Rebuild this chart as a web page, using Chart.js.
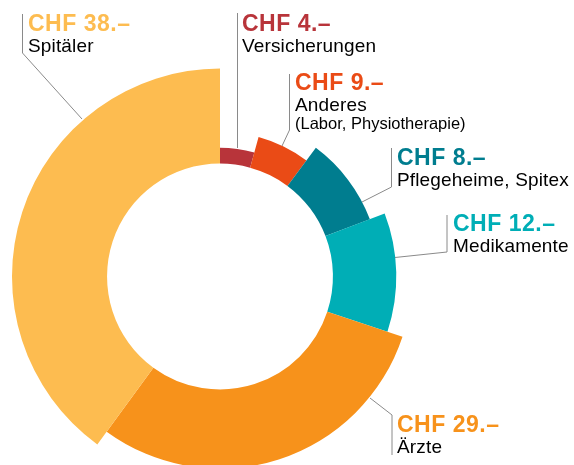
<!DOCTYPE html>
<html>
<head>
<meta charset="utf-8">
<script src="https://cdn.jsdelivr.net/npm/chart.js@4"></script>
<style>
  html, body { margin: 0; padding: 0; background: #fff; overflow: hidden; }
  #wrap { position: relative; width: 574px; height: 465px; }
  #chart { position: absolute; left: 0; top: 0; }
  #notes { position: absolute; left: 0; top: 0; pointer-events: none; }
  #notes text { font-family: "Liberation Sans", Arial, sans-serif; }
  .amount { font-size: 23px; font-weight: bold; letter-spacing: 0.5px; }
  .name { font-size: 19px; fill: #000; letter-spacing: 0.15px; }
  .sub { font-size: 16.5px; fill: #000; }
</style>
</head>
<body>
<div id="wrap">
  <canvas id="chart" width="574" height="465"></canvas>
  <svg id="notes" width="574" height="465"></svg>
</div>
<script>
'use strict';

// clockwise from 12 o'clock
let categories = ['Versicherungen', 'Anderes', 'Pflegeheime, Spitex', 'Medikamente', 'Ärzte', 'Spitäler'];
let amounts = [4, 9, 8, 12, 29, 38];   // CHF of every 100 CHF
let subLabels = ['', '(Labor, Physiotherapie)', '', '', '', ''];
// share of the circle each arc covers in the picture
let arcShares = [4.3, 5.9, 9.0, 10.9, 30, 40];
let colors = ['#b8343a', '#ea4b16', '#007d8f', '#00aeb6', '#f7921b', '#fdbc50'];

// where the text blocks and their leader lines go (left x, baseline y)
let callouts = [
  { x: 242, y: 31, line: [[237.5, 13], [237.5, 148]] },
  { x: 295, y: 90, line: [[289.5, 74], [289.5, 130], [282, 146]] },
  { x: 397, y: 165, line: [[391.5, 148], [391.5, 187], [362, 202]] },
  { x: 453, y: 231, line: [[447, 215], [447, 252], [395, 257.5]] },
  { x: 397, y: 432, line: [[370, 398], [392, 415], [392, 455]] },
  { x: 28, y: 31, line: [[22.5, 14], [22.5, 53], [82, 119]] }
];

// every arc gets a thicker ring than the one before it
const steppedRings = {
  id: 'steppedRings',
  beforeDatasetDraw(chart, args) {
    let meta = args.meta;
    let inner = meta.controller.innerRadius;
    let outer = meta.controller.outerRadius;
    let n = meta.data.length;
    meta.data.forEach((arc, i) => {
      arc.outerRadius = inner + (outer - inner) * (i + 1) / n;
    });
  }
};

const canvasEl = document.getElementById('chart');

new Chart(canvasEl, {
  type: 'doughnut',
  data: {
    labels: categories,
    datasets: [{
      data: arcShares,
      backgroundColor: colors,
      borderWidth: 0,
      radius: 208,
      cutout: '54.3%'
    }]
  },
  options: {
    responsive: false,
    animation: false,
    events: [],
    layout: { padding: { left: 0, right: 134, top: 88, bottom: 0 } },
    plugins: {
      legend: { display: false },
      tooltip: { enabled: false }
    }
  },
  plugins: [steppedRings]
});

// text labels and leader lines
const svgNS = 'http://www.w3.org/2000/svg';
const notesEl = document.getElementById('notes');

function addText(x, y, str, cls, fill) {
  let t = document.createElementNS(svgNS, 'text');
  t.setAttribute('x', x);
  t.setAttribute('y', y);
  t.setAttribute('class', cls);
  if (fill) t.setAttribute('fill', fill);
  t.textContent = str;
  notesEl.appendChild(t);
}

categories.forEach((name, i) => {
  let c = callouts[i];
  let pl = document.createElementNS(svgNS, 'polyline');
  pl.setAttribute('points', c.line.map(p => p.join(',')).join(' '));
  pl.setAttribute('fill', 'none');
  pl.setAttribute('stroke', '#8a8a8a');
  pl.setAttribute('stroke-width', '1');
  notesEl.appendChild(pl);

  addText(c.x, c.y, 'CHF ' + amounts[i] + '.–', 'amount', colors[i]);
  addText(c.x, c.y + 20.5, name, 'name');
  if (subLabels[i]) {
    addText(c.x, c.y + 39, subLabels[i], 'sub');
  }
});
</script>
</body>
</html>
